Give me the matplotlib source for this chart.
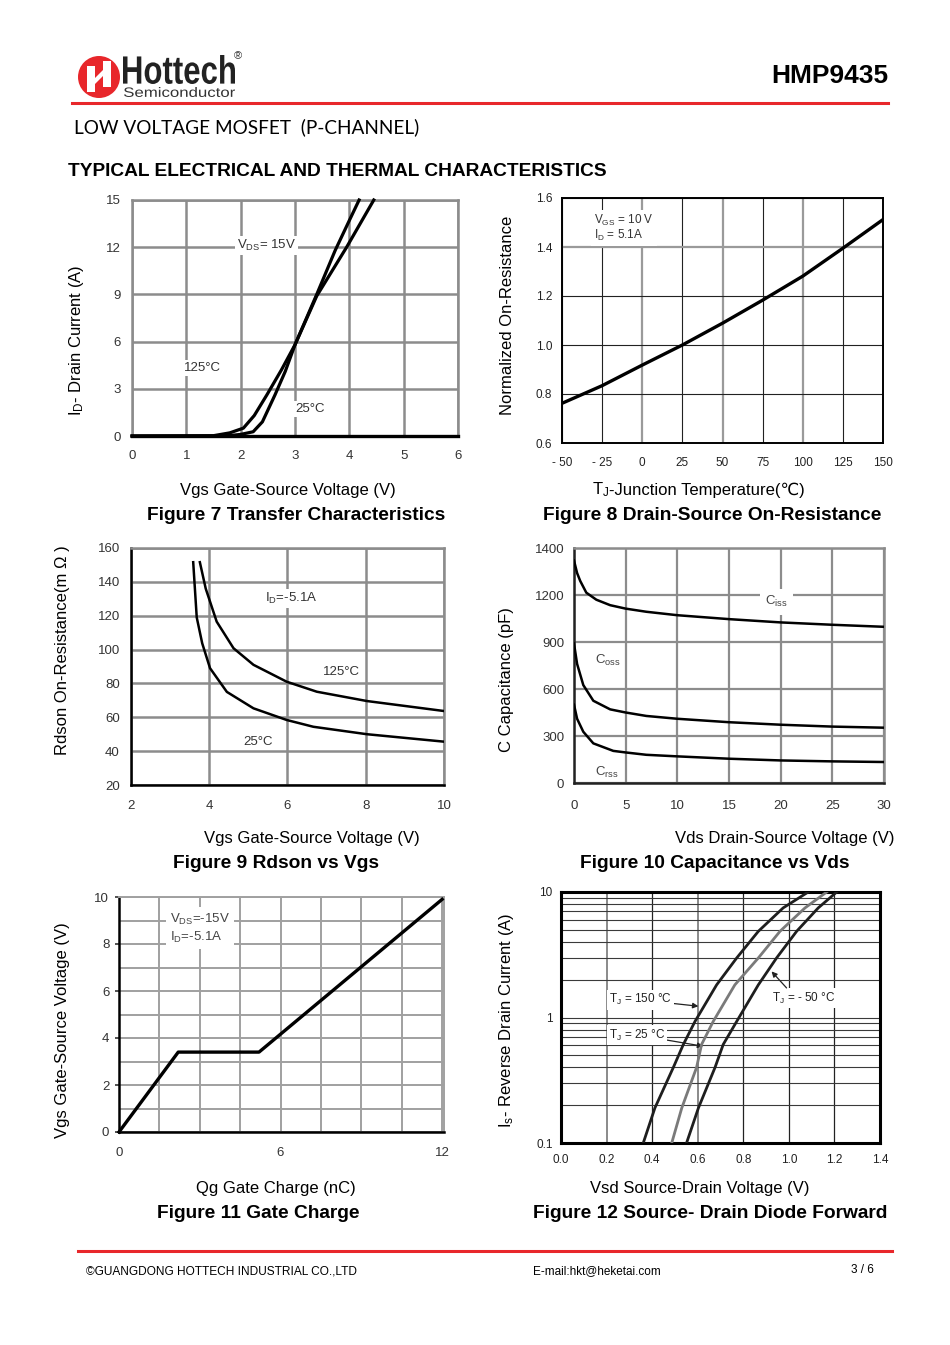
import matplotlib
matplotlib.use("Agg")
import matplotlib.pyplot as plt
from matplotlib.ticker import MultipleLocator, FixedLocator, NullFormatter
from matplotlib.textpath import TextPath
from matplotlib.patches import PathPatch, Circle, Polygon
from matplotlib.font_manager import FontProperties
from matplotlib.transforms import Affine2D
from matplotlib.lines import Line2D

W, H = 950, 1345
SANS = ["Liberation Sans", "DejaVu Sans"]
plt.rcParams["font.family"] = SANS
plt.rcParams["mathtext.default"] = "regular"

# ---- Figure 7: transfer characteristics (Vgs in V, Id in A)
vgs7_25 = [0, 1.5, 1.8, 2.0, 2.23, 2.4, 2.63, 2.82, 3.0, 3.2, 3.4, 3.74, 4.0, 4.18]
id7_25 = [0, 0, 0.03, 0.1, 0.27, 0.9, 2.6, 4.1, 5.8, 7.4, 9.0, 11.8, 13.7, 15.0]
vgs7_125 = [0, 1.5, 1.8, 2.05, 2.25, 2.48, 2.75, 3.0, 3.4, 3.95, 4.2, 4.45]
id7_125 = [0, 0.02, 0.2, 0.5, 1.3, 2.6, 4.2, 5.8, 8.9, 12.0, 13.5, 15.0]

# ---- Figure 8: normalized on-resistance vs Tj
tj8 = [-50, -25, 0, 25, 50, 75, 100, 125, 150]
rn8 = [0.762, 0.834, 0.918, 1.0, 1.089, 1.183, 1.281, 1.395, 1.512]

# ---- Figure 9: Rdson (mOhm) vs Vgs
vgs9_25 = [3.59, 3.68, 3.82, 4.02, 4.45, 5.13, 5.98, 6.66, 8.03, 10.0]
r9_25 = [151.6, 119, 103.7, 89, 75, 65.3, 58.4, 54.4, 50.0, 45.6]
vgs9_125 = [3.76, 3.91, 4.19, 4.62, 5.13, 5.98, 6.75, 8.03, 10.0]
r9_125 = [151.6, 136, 116.5, 100.8, 91, 81, 75.1, 69.6, 63.7]

# ---- Figure 10: capacitance (pF) vs Vds
ciss_x = [0, 0.3, 0.6, 1.19, 2.16, 3.5, 5, 7, 10, 15, 20, 25, 30]
ciss = [1420, 1340, 1290, 1215, 1170, 1135, 1113, 1093, 1071, 1046, 1025, 1010, 997]
coss_x = [0, 0.3, 0.9, 1.87, 3.5, 5, 7, 10, 15, 20, 25, 30]
coss = [890, 760, 625, 525, 470, 450, 428, 410, 388, 372, 360, 353]
crss_x = [0, 0.3, 0.9, 1.87, 3.8, 5, 7, 10, 15, 20, 25, 30]
crss = [500, 410, 327, 253, 205, 195, 180, 170, 155, 144, 138, 134]
cap_ticks = [0, 300, 600, 900, 1200, 1500]
cap_tick_labels = ["0", "300", "600", "900", "1200", "1400"]

# ---- Figure 11: gate charge
qg11 = [0, 2.2, 5.2, 12.0]
vgs11 = [0, 3.4, 3.4, 9.9]

# ---- Figure 12: source-drain diode forward (Is in A, Vsd in V)
is12 = [0.1, 0.19, 0.40, 0.61, 0.93, 1.82, 2.98, 4.86, 7.47, 10]
vsd12_150 = [0.361, 0.412, 0.493, 0.537, 0.588, 0.683, 0.771, 0.866, 0.975, 1.085]
vsd12_25 = [0.486, 0.530, 0.595, 0.617, 0.668, 0.763, 0.866, 0.961, 1.071, 1.166]
vsd12_m50 = [0.551, 0.603, 0.676, 0.712, 0.771, 0.866, 0.946, 1.034, 1.129, 1.21]

RED = "#e8272b"
GRID = "#8c8c8c"
TICKC = "#333333"
LABEL_FS = 12
CAPTION_FS = 13.8

fig = plt.figure(figsize=(W / 100, H / 100), dpi=100)
fig.patch.set_facecolor("white")

# pixel (x right, y down) -> figure
PX = Affine2D().scale(1, -1).translate(0, H).scale(1 / W, 1 / H) + fig.transFigure


def ftext(px, py, s, **kw):
    kw.setdefault("va", "center")
    return fig.text(px / W, 1 - py / H, s, **kw)


def fit_text(s, box, weight="normal", color="black", family="Liberation Sans"):
    x0, y0, x1, y1 = box
    tp = TextPath((0, 0), s, size=10, prop=FontProperties(family=family, weight=weight))
    ext = tp.get_extents()
    sx = (x1 - x0) / ext.width
    sy = (y1 - y0) / ext.height
    tr = (Affine2D().translate(-ext.x0, -ext.y0).scale(sx, sy)
          .translate(x0, H - y1).scale(1 / W, 1 / H) + fig.transFigure)
    fig.add_artist(PathPatch(tp, transform=tr, facecolor=color, edgecolor="none"))


def add_ax(l, t, r, b):
    return fig.add_axes([l / W, 1 - b / H, (r - l) / W, (b - t) / H])


# ---------------- header
fig.add_artist(Circle((99, 77), 21, transform=PX, facecolor=RED, edgecolor="none"))
fig.add_artist(Polygon([(87, 66), (95, 66), (95, 92), (87, 92)], closed=True,
                       transform=PX, facecolor="white", edgecolor="none"))
fig.add_artist(Polygon([(103, 61), (111, 61), (111, 87), (103, 87)], closed=True,
                       transform=PX, facecolor="white", edgecolor="none"))
fig.add_artist(Polygon([(95, 78), (103, 70), (103, 76), (95, 84)], closed=True,
                       transform=PX, facecolor="white", edgecolor="none"))
fit_text("Hottech", (123, 55, 235, 84), weight="bold", color="#222222")
fit_text("Semiconductor", (124, 87, 235, 97), color="#333333")
ftext(238, 56, "®", fontsize=8, ha="center", color="#333333")
ftext(888, 76, "HMP9435", fontsize=19, fontweight="bold", ha="right")
fig.add_artist(Line2D([72, 888], [103, 103], transform=PX, color=RED, lw=2.2))
ftext(74, 127, "LOW VOLTAGE MOSFET  (P-CHANNEL)", fontsize=13.7,
      family=["Lato", "DejaVu Sans"], ha="left")
ftext(68, 172, "TYPICAL ELECTRICAL AND THERMAL CHARACTERISTICS", fontsize=13.8,
      fontweight="bold", ha="left")

box = dict(facecolor="white", edgecolor="none", pad=1.5)


def style_spines(ax, left, bottom, other, lw_axis=2.0, lw_other=1.8):
    ax.spines["left"].set_color(left)
    ax.spines["bottom"].set_color(bottom)
    for s in ("top", "right"):
        ax.spines[s].set_color(other)
        ax.spines[s].set_linewidth(lw_other)
    ax.spines["left"].set_linewidth(lw_axis)
    ax.spines["bottom"].set_linewidth(lw_axis)


# ---------------- Figure 7
ax = add_ax(132, 200, 458, 436)
ax.set_xlim(0, 6)
ax.set_ylim(0, 15)
ax.set_xticks(range(0, 7))
ax.set_yticks(range(0, 16, 3))
ax.grid(True, color=GRID, lw=1.8)
ax.set_axisbelow(True)
style_spines(ax, GRID, "black", GRID, lw_axis=2.4)
ax.spines["left"].set_linewidth(1.8)
ax.tick_params(length=0, labelsize=9.5, colors=TICKC)
ax.tick_params(axis="x", pad=10)
ax.tick_params(axis="y", pad=8)
ax.plot(vgs7_25, id7_25, color="black", lw=2.3, zorder=4, clip_on=False)
ax.plot(vgs7_125, id7_125, color="black", lw=2.3, zorder=4, clip_on=False)
ax.text(2.47, 12.1, "V$_{DS}$= 15V", fontsize=9.5, color="#333", ha="center", va="center",
        bbox=box, zorder=3)
ax.text(1.29, 4.3, "125°C", fontsize=9.5, color="#333", ha="center", va="center",
        bbox=box, zorder=3)
ax.text(3.28, 1.7, "25°C", fontsize=9.5, color="#333", ha="center", va="center",
        bbox=box, zorder=3)
ftext(77, 340, "I$_D$- Drain Current (A)", fontsize=LABEL_FS, rotation=90, ha="center")
ftext(288, 490, "Vgs Gate-Source Voltage (V)", fontsize=LABEL_FS, ha="center")
ftext(296, 515, "Figure 7 Transfer Characteristics", fontsize=CAPTION_FS, fontweight="bold",
      ha="center")

# ---------------- Figure 8
ax = add_ax(562, 198, 883, 443)
ax.set_xlim(-50, 150)
ax.set_ylim(0.6, 1.6)
ax.set_xticks(tj8)
ax.set_xticklabels(["- 50", "- 25", "0", "25", "50", "75", "100", "125", "150"])
ax.set_yticks([0.6, 0.8, 1.0, 1.2, 1.4, 1.6])
ax.set_yticklabels(["0.6", "0.8", "1.0", "1.2", "1.4", "1.6"])
ax.grid(True, color="#222222", lw=0.8)
for i, gl in enumerate(ax.get_xgridlines()):
    if tj8[i] in (0, 50, 100):
        gl.set_color("#9a9a9a")
        gl.set_linewidth(1.6)
ax.get_ygridlines()[4].set_color("#9a9a9a")
ax.get_ygridlines()[4].set_linewidth(1.6)
ax.set_axisbelow(True)
for s in ax.spines.values():
    s.set_linewidth(1.4)
ax.tick_params(length=0, labelsize=8.5, colors="#222")
ax.tick_params(axis="x", pad=10)
ax.tick_params(axis="y", pad=7)
ax.plot(tj8, rn8, color="black", lw=2.4, zorder=4)
ax.text(-30, 1.478, "V$_{GS}$ = 10 V\nI$_D$ = 5.1A", fontsize=8.5, color="#333", ha="left",
        va="center", linespacing=0.95, bbox=dict(facecolor="white", edgecolor="none", pad=2),
        zorder=3)
ftext(507, 315, "Normalized On-Resistance", fontsize=LABEL_FS, rotation=90, ha="center")
ftext(609, 490, "T$_J$", fontsize=LABEL_FS, ha="right")
ftext(609, 490, "-Junction Temperature(℃)", fontsize=LABEL_FS, ha="left")
ftext(712, 515, "Figure 8 Drain-Source On-Resistance", fontsize=CAPTION_FS,
      fontweight="bold", ha="center")

# ---------------- Figure 9
ax = add_ax(131, 548, 444, 785)
ax.set_xlim(2, 10)
ax.set_ylim(20, 160)
ax.set_xticks(range(2, 11, 2))
ax.set_yticks(range(20, 161, 20))
ax.grid(True, color=GRID, lw=1.8)
ax.set_axisbelow(True)
style_spines(ax, "black", "black", GRID, lw_axis=1.8)
ax.tick_params(length=0, labelsize=9.5, colors=TICKC)
ax.tick_params(axis="x", pad=11)
ax.tick_params(axis="y", pad=8)
ax.plot(vgs9_25, r9_25, color="black", lw=1.8, zorder=4)
ax.plot(vgs9_125, r9_125, color="black", lw=1.8, zorder=4)
ax.text(6.1, 130, "I$_D$=-5.1A", fontsize=9.5, color="#333", ha="center", va="center",
        bbox=box, zorder=3)
ax.text(7.39, 86.6, "125°C", fontsize=9.5, color="#333", ha="center", va="center", zorder=3)
ax.text(5.26, 45.6, "25°C", fontsize=9.5, color="#333", ha="center", va="center", zorder=3)
ftext(62, 650, "Rdson On-Resistance(m Ω )", fontsize=LABEL_FS, rotation=90, ha="center")
ftext(312, 839, "Vgs Gate-Source Voltage (V)", fontsize=LABEL_FS, ha="center")
ftext(276, 864, "Figure 9 Rdson vs Vgs", fontsize=CAPTION_FS, fontweight="bold", ha="center")

# ---------------- Figure 10
ax = add_ax(574, 548, 884, 783)
ax.set_xlim(0, 30)
ax.set_ylim(0, 1500)
ax.set_xticks(range(0, 31, 5))
ax.set_yticks(cap_ticks)
ax.set_yticklabels(cap_tick_labels)
ax.grid(True, color=GRID, lw=1.6)
ax.set_axisbelow(True)
style_spines(ax, "#222", "#222", GRID, lw_axis=1.8)
ax.tick_params(length=0, labelsize=9.5, colors=TICKC)
ax.tick_params(axis="x", pad=12)
ax.tick_params(axis="y", pad=7)
ax.plot(ciss_x, ciss, color="black", lw=1.8, zorder=4)
ax.plot(coss_x, coss, color="black", lw=1.8, zorder=4)
ax.plot(crss_x, crss, color="black", lw=1.8, zorder=4)
ax.text(19.6, 1157, "C$_{iss}$", fontsize=9.5, color="#444", ha="center", va="center",
        bbox=dict(facecolor="white", edgecolor="none", pad=4), zorder=3)
ax.text(3.32, 785, "C$_{oss}$", fontsize=9.5, color="#444", ha="center", va="center", zorder=3)
ax.text(3.16, 68, "C$_{rss}$", fontsize=9.5, color="#444", ha="center", va="center", zorder=3)
ftext(507, 680, "C Capacitance (pF)", fontsize=LABEL_FS, rotation=90, ha="center")
ftext(785, 839, "Vds Drain-Source Voltage (V)", fontsize=LABEL_FS, ha="center")
ftext(715, 864, "Figure 10 Capacitance vs Vds", fontsize=CAPTION_FS, fontweight="bold",
      ha="center")

# ---------------- Figure 11
ax = add_ax(119, 897, 444, 1132)
ax.set_xlim(0, 12.07)
ax.set_ylim(0, 10)
ax.set_xticks([0, 6, 12])
ax.set_yticks(range(0, 11, 2))
ax.xaxis.set_minor_locator(MultipleLocator(1.5))
ax.yaxis.set_minor_locator(MultipleLocator(1))
ax.grid(True, which="both", color="#a0a0a0", lw=1.4)
ax.set_axisbelow(True)
style_spines(ax, "black", "black", "#a0a0a0", lw_axis=1.8, lw_other=1.4)
ax.tick_params(which="minor", length=0)
ax.tick_params(axis="y", length=3, width=1.2, labelsize=9.5, colors=TICKC, pad=4)
ax.tick_params(axis="x", length=0, labelsize=9.5, colors=TICKC, pad=11)
ax.plot(qg11, vgs11, color="black", lw=2.4, zorder=4, clip_on=False)
ax.text(1.89, 8.67, "V$_{DS}$=-15V\nI$_D$=-5.1A", fontsize=9.5, color="#444", ha="left",
        va="center", linespacing=1.3,
        bbox=dict(facecolor="white", edgecolor="none", pad=3), zorder=3)
ftext(62, 1030, "Vgs Gate-Source Voltage (V)", fontsize=LABEL_FS, rotation=90, ha="center")
ftext(276, 1188, "Qg Gate Charge (nC)", fontsize=LABEL_FS, ha="center")
ftext(258, 1213, "Figure 11 Gate Charge", fontsize=CAPTION_FS, fontweight="bold",
      ha="center")

# ---------------- Figure 12
ax = add_ax(561, 892, 880, 1143)
ax.set_yscale("log")
ax.set_xlim(0, 1.4)
ax.set_ylim(0.1, 10)
ax.set_xticks([0, 0.2, 0.4, 0.6, 0.8, 1.0, 1.2, 1.4])
ax.set_xticklabels(["0.0", "0.2", "0.4", "0.6", "0.8", "1.0", "1.2", "1.4"])
ax.yaxis.set_major_locator(FixedLocator([0.1, 1, 10]))
ax.set_yticklabels(["0.1", "1", "10"])
ax.yaxis.set_minor_formatter(NullFormatter())
ax.grid(True, which="both", axis="y", color="#3a3a3a", lw=0.8)
ax.grid(True, which="major", axis="x", color="#222", lw=0.9)
for i, gl in enumerate(ax.get_xgridlines()):
    if i in (1, 3):
        gl.set_color("#8a8a8a")
        gl.set_linewidth(1.4)
ax.set_axisbelow(True)
for s in ax.spines.values():
    s.set_linewidth(2.2)
ax.tick_params(which="both", length=0, labelsize=8.5, colors="#222")
ax.tick_params(axis="x", pad=8)
ax.tick_params(axis="y", pad=6)
ax.plot(vsd12_150, is12, color="#1e1e1e", lw=2.0, zorder=4)
ax.plot(vsd12_25, is12, color="#7a7a7a", lw=2.0, zorder=4)
ax.plot(vsd12_m50, is12, color="#1e1e1e", lw=2.0, zorder=4)
ann = dict(fontsize=8.5, color="#222", va="center", zorder=3,
           bbox=dict(facecolor="white", edgecolor="none", pad=1.5))
arr = dict(arrowstyle="-|>", color="#222", lw=0.9, mutation_scale=8, shrinkA=0, shrinkB=0)
ax.annotate("T$_J$ = 150 °C", xy=(0.603, 1.23), xytext=(0.487, 1.38), ha="right",
            arrowprops=arr, **ann)
ax.annotate("T$_J$ = 25 °C", xy=(0.624, 0.59), xytext=(0.456, 0.726), ha="right",
            arrowprops=arr, **ann)
ax.annotate("T$_J$ = - 50 °C", xy=(0.924, 2.33), xytext=(0.926, 1.43), ha="left",
            **ann)
ax.annotate("", xy=(0.924, 2.33), xytext=(0.99, 1.72), arrowprops=arr)
ftext(507, 1020, "I$_s$- Reverse Drain Current (A)", fontsize=LABEL_FS, rotation=90,
      ha="center")
ftext(700, 1188, "Vsd Source-Drain Voltage (V)", fontsize=LABEL_FS, ha="center")
ftext(710, 1213, "Figure 12 Source- Drain Diode Forward", fontsize=CAPTION_FS,
      fontweight="bold", ha="center")

# ---------------- footer
fig.add_artist(Line2D([78, 892], [1251, 1251], transform=PX, color=RED, lw=2.2))
ftext(86, 1271, "©GUANGDONG HOTTECH INDUSTRIAL CO.,LTD", fontsize=8.6, ha="left")
ftext(533, 1271, "E-mail:hkt@heketai.com", fontsize=8.5, ha="left")
ftext(862, 1270, "3 / 6", fontsize=8.5, ha="center")

fig.savefig("out.png", dpi=100, facecolor="white")
